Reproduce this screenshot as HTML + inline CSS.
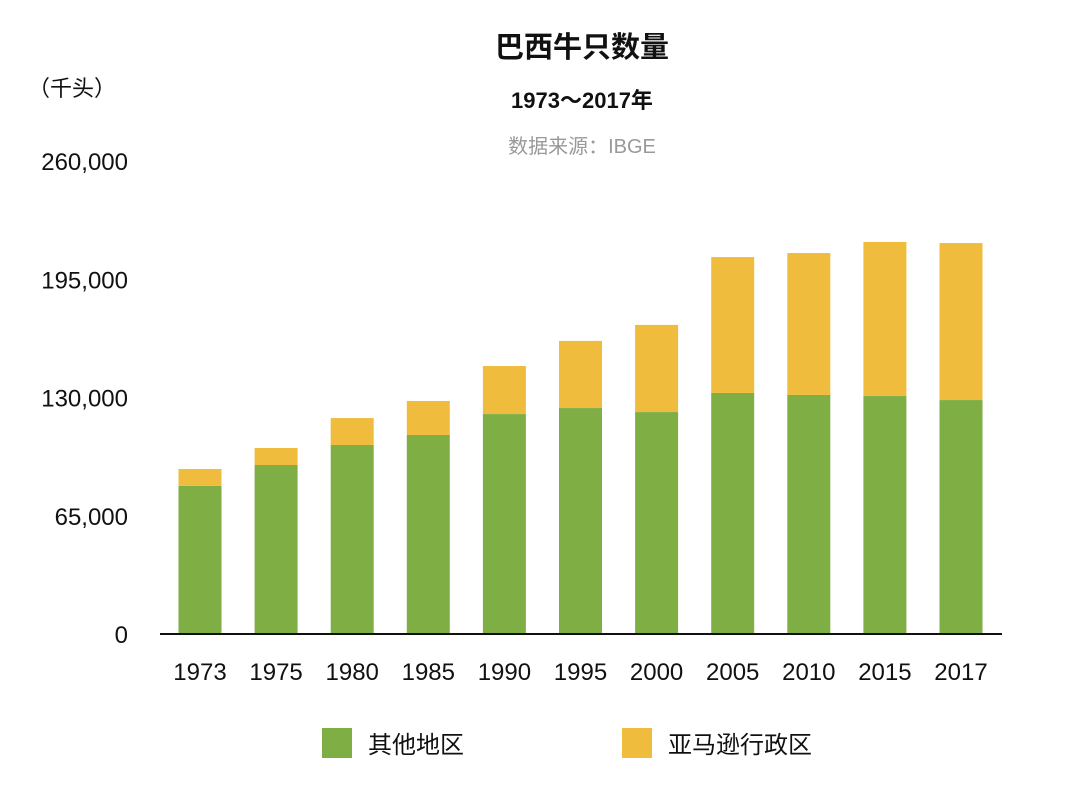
<!DOCTYPE html>
<html><head><meta charset="utf-8">
<style>
body{margin:0;background:#fff;}
svg text{font-family:"Liberation Sans","Noto Sans CJK SC",sans-serif;}
</style></head>
<body>
<svg width="1080" height="782" viewBox="0 0 1080 782">
<text x="582" y="57" text-anchor="middle" font-size="29" font-weight="bold" fill="#111">巴西牛只数量</text>
<text x="582" y="108" text-anchor="middle" font-size="22" font-weight="bold" fill="#111">1973～2017年</text>
<text x="582" y="153" text-anchor="middle" font-size="20" fill="#999">数据来源：IBGE</text>
<text x="28" y="96" font-size="22" fill="#111">（千头）</text>
<g id="yticks"></g>
<g id="bars"></g>
<g id="xticks"></g>
<line x1="160" y1="634" x2="1002" y2="634" stroke="#111" stroke-width="2"/>
<rect x="322" y="728" width="30" height="30" fill="#7fae45"/>
<text x="368" y="753" font-size="24" fill="#111">其他地区</text>
<rect x="622" y="728" width="30" height="30" fill="#f0bc3e"/>
<text x="668" y="753" font-size="24" fill="#111">亚马逊行政区</text>
</svg>
<script>
const categories=["1973","1975","1980","1985","1990","1995","2000","2005","2010","2015","2017"];
const otherRegions=[81400,92900,103900,109400,120900,124200,122000,132500,131400,130800,128600];
const amazonRegion=[9300,9350,14800,18700,26400,36900,47900,74700,78000,84700,86300];
const tickValues=[0,65000,130000,195000,260000];
const tickLabels=["0","65,000","130,000","195,000","260,000"];
const NS="http://www.w3.org/2000/svg";
const y0=634,yTop=161,yMax=260000;
function yScale(v){return y0-(v/yMax)*(y0-yTop);}
function xScale(i){return 200+i*76.1;}
const bw=43;
function mk(tag,attrs,parent){const e=document.createElementNS(NS,tag);for(const k in attrs)e.setAttribute(k,attrs[k]);parent.appendChild(e);return e;}
const yt=document.getElementById('yticks');
tickValues.forEach((v,i)=>{
 const t=mk('text',{x:128,y:yScale(v)+9,'text-anchor':'end','font-size':24,fill:'#111'},yt);
 
 
 t.textContent=tickLabels[i];
});
const bars=document.getElementById('bars');
const xt=document.getElementById('xticks');
categories.forEach((c,i)=>{
 const cx=xScale(i);
 const g=otherRegions[i],a=amazonRegion[i];
 const r1=mk('rect',{x:cx-bw/2,y:yScale(g),width:bw,height:y0-yScale(g),fill:'#7fae45'},bars);
 
 
 const r2=mk('rect',{x:cx-bw/2,y:yScale(g+a),width:bw,height:yScale(g)-yScale(g+a),fill:'#f0bc3e'},bars);
 
 
 const t=mk('text',{x:cx,y:680,'text-anchor':'middle','font-size':24,fill:'#111'},xt);
 
 
 t.textContent=c;
});
</script>
</body></html>
